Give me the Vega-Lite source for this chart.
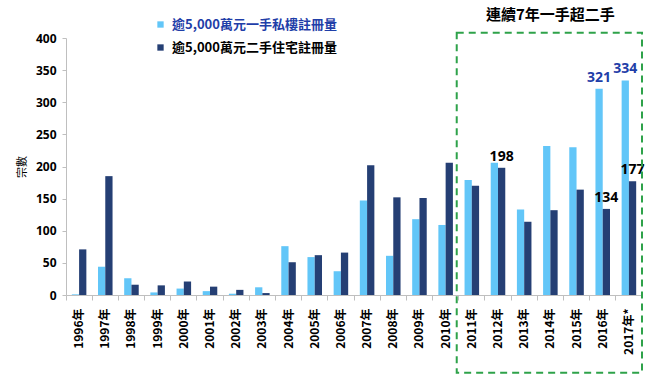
{
  "$schema": "https://vega.github.io/schema/vega-lite/v6.json",
  "width": 576,
  "height": 257,
  "autosize": {"type": "none"},
  "padding": {"left": 66, "top": 38, "right": 13, "bottom": 87},
  "background": "white",
  "config": {
    "view": {"stroke": null},
    "font": "Noto Sans CJK TC",
    "axisY": {
      "grid": false, "labelOverlap": false,
      "domainColor": "#bfbfbf", "tickColor": "#bfbfbf", "tickSize": 4,
      "labelFont": "Noto Sans", "labelFontSize": 12, "labelFontWeight": "bold",
      "labelColor": "#000000", "labelPadding": 6,
      "titleFont": "Noto Sans CJK TC", "titleFontSize": 11,
      "titleFontWeight": "normal", "titleColor": "#000000", "titlePadding": 8
    },
    "axisX": {
      "labelAngle": -90, "bandPosition": 0, "grid": false,
      "domainColor": "#bfbfbf", "tickColor": "#bfbfbf", "tickSize": 5,
      "labelFont": "Noto Sans CJK TC", "labelFontSize": 12, "labelFontWeight": "bold",
      "labelColor": "#000000", "labelPadding": 8
    }
  },
  "datasets": {
    "bars": [
      {"year": "1996年", "series": "逾5,000萬元一手私樓註冊量", "value": 1},
      {"year": "1996年", "series": "逾5,000萬元二手住宅註冊量", "value": 71},
      {"year": "1997年", "series": "逾5,000萬元一手私樓註冊量", "value": 44},
      {"year": "1997年", "series": "逾5,000萬元二手住宅註冊量", "value": 185},
      {"year": "1998年", "series": "逾5,000萬元一手私樓註冊量", "value": 26},
      {"year": "1998年", "series": "逾5,000萬元二手住宅註冊量", "value": 16},
      {"year": "1999年", "series": "逾5,000萬元一手私樓註冊量", "value": 4},
      {"year": "1999年", "series": "逾5,000萬元二手住宅註冊量", "value": 15},
      {"year": "2000年", "series": "逾5,000萬元一手私樓註冊量", "value": 10},
      {"year": "2000年", "series": "逾5,000萬元二手住宅註冊量", "value": 21},
      {"year": "2001年", "series": "逾5,000萬元一手私樓註冊量", "value": 6},
      {"year": "2001年", "series": "逾5,000萬元二手住宅註冊量", "value": 13},
      {"year": "2002年", "series": "逾5,000萬元一手私樓註冊量", "value": 2},
      {"year": "2002年", "series": "逾5,000萬元二手住宅註冊量", "value": 8},
      {"year": "2003年", "series": "逾5,000萬元一手私樓註冊量", "value": 12},
      {"year": "2003年", "series": "逾5,000萬元二手住宅註冊量", "value": 3},
      {"year": "2004年", "series": "逾5,000萬元一手私樓註冊量", "value": 76},
      {"year": "2004年", "series": "逾5,000萬元二手住宅註冊量", "value": 51},
      {"year": "2005年", "series": "逾5,000萬元一手私樓註冊量", "value": 59},
      {"year": "2005年", "series": "逾5,000萬元二手住宅註冊量", "value": 62},
      {"year": "2006年", "series": "逾5,000萬元一手私樓註冊量", "value": 37},
      {"year": "2006年", "series": "逾5,000萬元二手住宅註冊量", "value": 66},
      {"year": "2007年", "series": "逾5,000萬元一手私樓註冊量", "value": 147},
      {"year": "2007年", "series": "逾5,000萬元二手住宅註冊量", "value": 202},
      {"year": "2008年", "series": "逾5,000萬元一手私樓註冊量", "value": 61},
      {"year": "2008年", "series": "逾5,000萬元二手住宅註冊量", "value": 152},
      {"year": "2009年", "series": "逾5,000萬元一手私樓註冊量", "value": 118},
      {"year": "2009年", "series": "逾5,000萬元二手住宅註冊量", "value": 151},
      {"year": "2010年", "series": "逾5,000萬元一手私樓註冊量", "value": 109},
      {"year": "2010年", "series": "逾5,000萬元二手住宅註冊量", "value": 206},
      {"year": "2011年", "series": "逾5,000萬元一手私樓註冊量", "value": 179},
      {"year": "2011年", "series": "逾5,000萬元二手住宅註冊量", "value": 170},
      {"year": "2012年", "series": "逾5,000萬元一手私樓註冊量", "value": 206},
      {"year": "2012年", "series": "逾5,000萬元二手住宅註冊量", "value": 198},
      {"year": "2013年", "series": "逾5,000萬元一手私樓註冊量", "value": 133},
      {"year": "2013年", "series": "逾5,000萬元二手住宅註冊量", "value": 114},
      {"year": "2014年", "series": "逾5,000萬元一手私樓註冊量", "value": 232},
      {"year": "2014年", "series": "逾5,000萬元二手住宅註冊量", "value": 132},
      {"year": "2015年", "series": "逾5,000萬元一手私樓註冊量", "value": 230},
      {"year": "2015年", "series": "逾5,000萬元二手住宅註冊量", "value": 164},
      {"year": "2016年", "series": "逾5,000萬元一手私樓註冊量", "value": 321},
      {"year": "2016年", "series": "逾5,000萬元二手住宅註冊量", "value": 134},
      {"year": "2017年*", "series": "逾5,000萬元一手私樓註冊量", "value": 334},
      {"year": "2017年*", "series": "逾5,000萬元二手住宅註冊量", "value": 177}
    ],
    "labels": [
      {"year": "2012年", "series": "逾5,000萬元二手住宅註冊量", "value": 198, "label": "198"},
      {"year": "2016年", "series": "逾5,000萬元一手私樓註冊量", "value": 321, "label": "321"},
      {"year": "2016年", "series": "逾5,000萬元二手住宅註冊量", "value": 134, "label": "134"},
      {"year": "2017年*", "series": "逾5,000萬元一手私樓註冊量", "value": 334, "label": "334"},
      {"year": "2017年*", "series": "逾5,000萬元二手住宅註冊量", "value": 177, "label": "177"}
    ],
    "box": [{"start": "2011年", "end": "2017年*", "top": 408, "bottom": -121}],
    "heading": [{"year": "2014年", "y": 436, "text": "連續7年一手超二手"}]
  },
  "layer": [
    {
      "data": {"name": "bars"},
      "mark": {"type": "bar"},
      "encoding": {
        "x": {
          "field": "year", "type": "nominal", "title": null,
          "scale": {"domain": ["1996年","1997年","1998年","1999年","2000年","2001年","2002年","2003年","2004年","2005年","2006年","2007年","2008年","2009年","2010年","2011年","2012年","2013年","2014年","2015年","2016年","2017年*"], "paddingInner": 0, "paddingOuter": 0}
        },
        "xOffset": {
          "field": "series", "type": "nominal",
          "scale": {"domain": ["逾5,000萬元一手私樓註冊量", "逾5,000萬元二手住宅註冊量"], "paddingInner": 0, "paddingOuter": 0.8}
        },
        "y": {
          "field": "value", "type": "quantitative", "title": "宗數",
          "scale": {"domain": [0, 400], "nice": false, "zero": true},
          "axis": {"values": [0, 50, 100, 150, 200, 250, 300, 350, 400], "tickCount": 20}
        },
        "color": {
          "field": "series", "type": "nominal",
          "scale": {"domain": ["逾5,000萬元一手私樓註冊量", "逾5,000萬元二手住宅註冊量"], "range": ["#62c6f8", "#253f74"]},
          "legend": {
            "orient": "none", "legendX": 88, "legendY": -20, "title": null,
            "symbolType": "square", "symbolSize": 40, "rowPadding": 9,
            "labelFont": "Noto Sans CJK TC", "labelFontSize": 13, "labelFontWeight": "bold",
            "labelLimit": 300, "labelOffset": 5,
            "encode": {"labels": {"update": {"fill": {"signal": "datum.value === '逾5,000萬元一手私樓註冊量' ? '#1f3ea8' : '#000000'"}}}}
          }
        }
      }
    },
    {
      "data": {"name": "labels"},
      "mark": {"type": "text", "baseline": "alphabetic", "dy": -7, "fontSize": 14, "font": "Noto Sans", "fontWeight": "bold"},
      "encoding": {
        "x": {"field": "year", "type": "nominal", "title": null},
        "xOffset": {"field": "series", "type": "nominal"},
        "y": {"field": "value", "type": "quantitative", "title": "宗數", "axis": {"values": [0, 50, 100, 150, 200, 250, 300, 350, 400], "tickCount": 20}},
        "text": {"field": "label"},
        "color": {"condition": {"test": "datum.series === '逾5,000萬元一手私樓註冊量'", "value": "#1f3ea8"}, "value": "#000000"}
      }
    },
    {
      "data": {"name": "box"},
      "mark": {"type": "rect", "filled": false, "stroke": "#2ea24a", "strokeWidth": 2, "strokeDash": [7, 5], "xOffset": -2},
      "encoding": {
        "x": {"field": "start", "type": "nominal", "bandPosition": 0, "title": null},
        "x2": {"field": "end", "bandPosition": 1},
        "y": {"field": "top", "type": "quantitative", "title": "宗數", "axis": {"values": [0, 50, 100, 150, 200, 250, 300, 350, 400], "tickCount": 20}},
        "y2": {"field": "bottom"}
      }
    },
    {
      "data": {"name": "heading"},
      "mark": {"type": "text", "baseline": "middle", "fontSize": 15, "fontWeight": "bold", "font": "Noto Sans CJK TC", "color": "#000000"},
      "encoding": {
        "x": {"field": "year", "type": "nominal", "title": null},
        "y": {"field": "y", "type": "quantitative", "title": "宗數", "axis": {"values": [0, 50, 100, 150, 200, 250, 300, 350, 400], "tickCount": 20}},
        "text": {"field": "text"}
      }
    }
  ]
}
